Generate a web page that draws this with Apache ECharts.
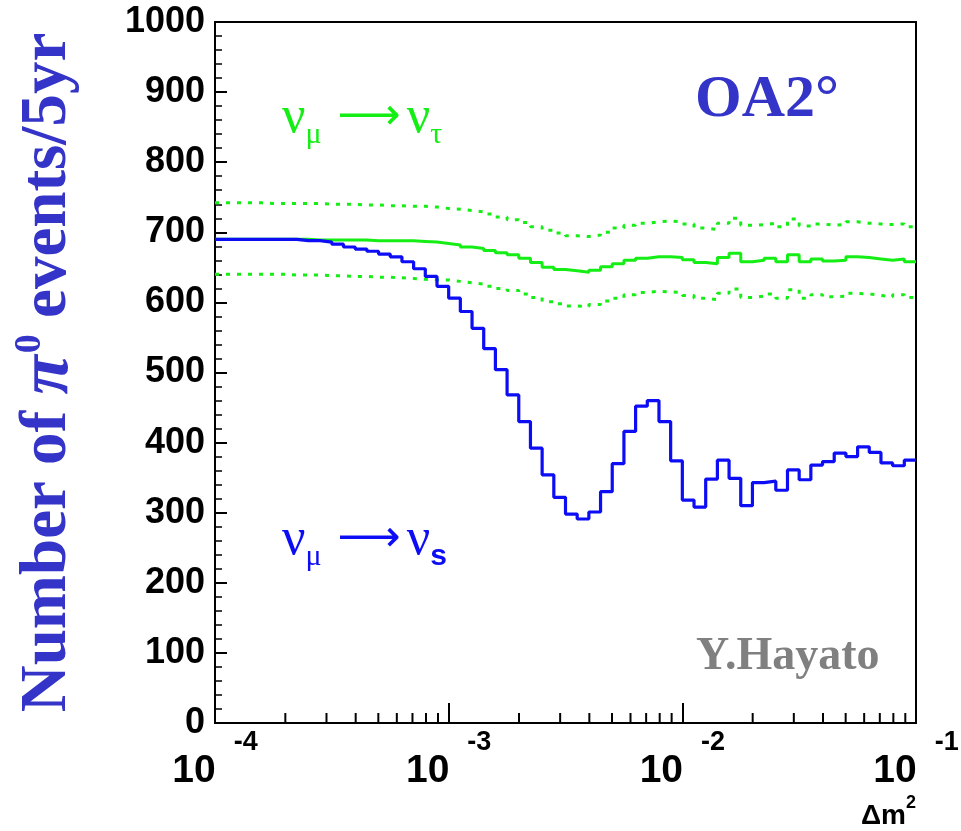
<!DOCTYPE html>
<html>
<head>
<meta charset="utf-8">
<script src="https://cdn.jsdelivr.net/npm/echarts@6/dist/echarts.min.js"></script>
<style>
  html, body { margin: 0; padding: 0; background: #ffffff; }
  #chart { width: 961px; height: 831px; }
</style>
</head>
<body>
<div id="chart"></div>
<script>
// Δm² binning: 20 logarithmic bins per decade, 1e-4 .. 1e-1
const logMin = -4;
const logMax = -1;
const binsPerDecade = 20;

// Expected π0 events / 5 yr per Δm² bin, νμ → νs
const sterileCounts = [
  690, 690, 690, 690, 690, 690, 690, 688, 688, 686,
  683, 679, 676, 673, 669, 665, 658, 648, 637, 623,
  606, 587, 563, 534, 504, 468, 430, 392, 354, 322,
  298, 291, 301, 330, 370, 416, 452, 460, 430, 374,
  318, 308, 348, 375, 349, 310, 343, 345, 332, 361,
  347, 368, 373, 385, 380, 394, 386, 371, 367, 375
];

// νμ → ντ central value
const tauCounts = [
  690, 690, 690, 690, 690, 690, 690, 690, 689, 689,
  689, 689, 689, 688, 688, 688, 688, 687, 686, 684,
  682, 679, 677, 674, 671, 668, 663, 657, 650, 647,
  645, 643, 646, 651, 655, 660, 663, 665, 665, 664,
  661, 657, 655, 664, 670, 658, 660, 663, 658, 668,
  658, 662, 659, 660, 665, 664, 662, 660, 662, 658
];

// νμ → ντ upper band
const tauUpper = [
  742, 742, 742, 742, 741, 741, 741, 741, 741, 740,
  740, 740, 739, 739, 738, 738, 737, 737, 736, 734,
  733, 731, 729, 726, 722, 718, 714, 708, 703, 699,
  695, 694, 696, 700, 706, 710, 713, 715, 716, 715,
  712, 706, 704, 713, 720, 710, 711, 713, 708, 719,
  709, 712, 710, 711, 715, 713, 712, 711, 712, 708
];

// νμ → ντ lower band
const tauLower = [
  640, 640, 640, 640, 640, 640, 639, 639, 639, 638,
  638, 637, 637, 636, 636, 635, 634, 633, 632, 632,
  630, 628, 626, 623, 620, 617, 612, 607, 601, 598,
  595, 594, 597, 602, 606, 611, 614, 616, 615, 614,
  610, 606, 604, 613, 619, 607, 609, 612, 606, 618,
  606, 611, 608, 609, 613, 612, 610, 608, 611, 607
];

// Minor tick mantissas on the log axis
const minorMantissas = [2, 3, 4, 5, 6, 7, 8, 9];

const BLUE = '#0c0cf5';
const GREEN = '#14ee14';
const TEXT_BLUE = '#3434c8';
const SERIF = 'Liberation Serif, Times New Roman, serif';
const SANS = 'Liberation Sans, Arial, sans-serif';

function binEdge(i) {
  return Math.pow(10, logMin + i / binsPerDecade);
}

// Turn per-bin contents into step-line vertices (left edge of every bin + final right edge)
function histPoints(values) {
  const pts = values.map((v, i) => [binEdge(i), v]);
  pts.push([binEdge(values.length), values[values.length - 1]]);
  return pts;
}

const minorTickData = [];
for (let d = logMin; d < logMax; d++) {
  minorMantissas.forEach(m => minorTickData.push([m * Math.pow(10, d), 0]));
}

const chart = echarts.init(document.getElementById('chart'), null, { renderer: 'canvas' });

const sansBold = { fontFamily: SANS, fontWeight: 'bold', color: '#000' };

chart.setOption({
  animation: false,
  backgroundColor: '#ffffff',
  grid: {
    left: 215, right: 45, top: 22, bottom: 108,
    containLabel: false,
    outerBoundsMode: 'none',
    show: true, borderColor: '#000', borderWidth: 2, backgroundColor: 'transparent'
  },
  xAxis: {
    type: 'log',
    logBase: 10,
    min: Math.pow(10, logMin),
    max: Math.pow(10, logMax),
    axisLine: { lineStyle: { color: '#000', width: 2 } },
    axisTick: { inside: true, length: 20, lineStyle: { color: '#000', width: 2 } },
    splitLine: { show: false },
    axisLabel: {
      margin: 6,
      formatter: v => '{b|10}{e|' + Math.round(Math.log10(v)) + '}',
      rich: {
        b: Object.assign({ fontSize: 39, lineHeight: 62, verticalAlign: 'bottom' }, sansBold),
        e: Object.assign({ fontSize: 27, verticalAlign: 'top', padding: [0, 0, 0, 18] }, sansBold)
      }
    }
  },
  yAxis: {
    type: 'value',
    min: 0, max: 1000, interval: 100,
    name: '{a|Number of }{p|π}{s|0}{a| events/5yr}',
    nameLocation: 'middle',
    nameGap: 130,
    nameMoveOverlap: false,
    nameRotate: 90,
    nameTextStyle: {
      rich: {
        a: { fontFamily: SERIF, fontWeight: 'bold', fontSize: 65, color: TEXT_BLUE },
        p: { fontFamily: SERIF, fontWeight: 'bold', fontStyle: 'italic', fontSize: 72, color: TEXT_BLUE, padding: [0, 2, 0, 0] },
        s: { fontFamily: SERIF, fontWeight: 'bold', fontSize: 38, color: TEXT_BLUE, verticalAlign: 'top', lineHeight: 74 }
      }
    },
    axisLine: { show: true, lineStyle: { color: '#000', width: 2 } },
    axisTick: { show: true, inside: true, length: 12, lineStyle: { color: '#000', width: 2 } },
    minorTick: { show: true, splitNumber: 5, length: 7, lineStyle: { color: '#000', width: 1.5 } },
    splitLine: { show: false },
    axisLabel: Object.assign({ margin: 10, fontSize: 36, formatter: v => String(v) }, sansBold)
  },
  series: [
    {
      name: 'νμ → ντ upper',
      type: 'line', step: 'end', showSymbol: false, silent: true,
      data: histPoints(tauUpper),
      lineStyle: { color: GREEN, width: 3, type: [4, 7] }
    },
    {
      name: 'νμ → ντ lower',
      type: 'line', step: 'end', showSymbol: false, silent: true,
      data: histPoints(tauLower),
      lineStyle: { color: GREEN, width: 3, type: [4, 7] }
    },
    {
      name: 'νμ → ντ',
      type: 'line', step: 'end', showSymbol: false, silent: true,
      data: histPoints(tauCounts),
      lineStyle: { color: GREEN, width: 3 }
    },
    {
      name: 'νμ → νs',
      type: 'line', step: 'end', showSymbol: false, silent: true,
      data: histPoints(sterileCounts),
      lineStyle: { color: BLUE, width: 3.2 }
    },
    {
      // minor ticks at 2..9 × 10^k along the Δm² axis
      name: 'minor ticks',
      type: 'custom', silent: true, clip: false, z: 10,
      data: minorTickData,
      renderItem: (params, api) => {
        const p = api.coord([api.value(0), api.value(1)]);
        return {
          type: 'line',
          shape: { x1: p[0], y1: p[1], x2: p[0], y2: p[1] - 10 },
          style: { stroke: '#000', lineWidth: 2 }
        };
      }
    }
  ],
  graphic: [
    {
      type: 'text', left: 282, top: 92,
      style: {
        text: '{n|ν}{u|μ}{r|⟶}{n|ν}{u|τ}',
        rich: {
          n: { fontFamily: SERIF, fontSize: 52, fill: GREEN },
          u: { fontFamily: SERIF, fontSize: 30, fill: GREEN, verticalAlign: 'bottom', lineHeight: 64 },
          r: { fontFamily: 'DejaVu Sans, sans-serif', fontSize: 44, fill: GREEN, padding: [0, 6, 0, 16] }
        }
      }
    },
    {
      type: 'text', left: 282, top: 514,
      style: {
        text: '{n|ν}{u|μ}{r|⟶}{n|ν}{s|s}',
        rich: {
          n: { fontFamily: SERIF, fontSize: 52, fill: BLUE },
          u: { fontFamily: SERIF, fontSize: 30, fill: BLUE, verticalAlign: 'bottom', lineHeight: 64 },
          s: { fontFamily: SANS, fontWeight: 'bold', fontSize: 30, fill: BLUE, verticalAlign: 'bottom', lineHeight: 64 },
          r: { fontFamily: 'DejaVu Sans, sans-serif', fontSize: 44, fill: BLUE, padding: [0, 6, 0, 16] }
        }
      }
    },
    {
      type: 'text', left: 695, top: 70,
      style: { text: 'OA2°', fontFamily: SERIF, fontWeight: 'bold', fontSize: 60, fill: TEXT_BLUE }
    },
    {
      type: 'text', left: 696, top: 634,
      style: { text: 'Y.Hayato', fontFamily: SERIF, fontWeight: 'bold', fontSize: 46, fill: '#808080' }
    },
    {
      type: 'text', right: 45, top: 794,
      style: { text: '{m|Δm}{t|2}', rich: {
        m: { fontFamily: SANS, fontWeight: 'bold', fontSize: 28, fill: '#000', verticalAlign: 'bottom', lineHeight: 36 },
        t: { fontFamily: SANS, fontWeight: 'bold', fontSize: 18, fill: '#000', verticalAlign: 'top' }
      } }
    }
  ]
});
</script>
</body>
</html>
